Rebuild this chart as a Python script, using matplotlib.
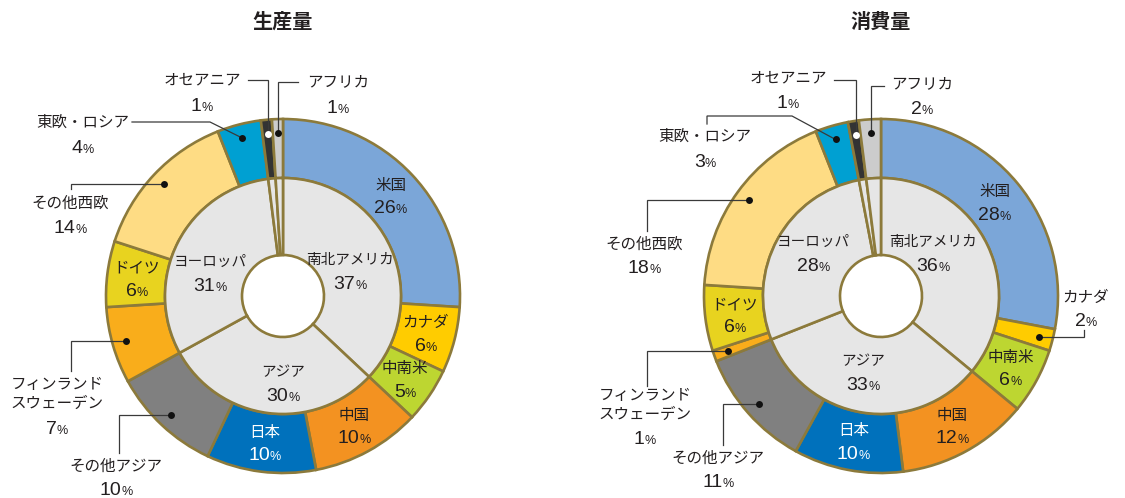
import numpy as np
import matplotlib
matplotlib.use('Agg')
import matplotlib.pyplot as plt

W, H = 1125, 498

# outer ring, clockwise from 12 o'clock
countries = ['米国', 'カナダ', '中南米', '中国', '日本', 'その他アジア',
             'フィンランド\nスウェーデン', 'ドイツ', 'その他西欧', '東欧・ロシア',
             'オセアニア', 'アフリカ']
production_share = [26, 6, 5, 10, 10, 10, 7, 6, 14, 4, 1, 1]
consumption_share = [28, 2, 6, 12, 10, 11, 1, 6, 18, 3, 1, 2]

# inner ring
regions = ['南北アメリカ', 'アジア', 'ヨーロッパ', 'オセアニア', 'アフリカ']
production_region = [37, 30, 31, 1, 1]
consumption_region = [36, 33, 28, 1, 2]

country_colors = ['#7ba6d8', '#ffcc00', '#bdd631', '#f39221', '#0071bc', '#808080',
                  '#f9ad1b', '#e8d31f', '#fedc84', '#00a0d2', '#333333', '#cccccc']
INNER = '#e6e6e6'
EDGE = '#8c7a3b'
INK = '#231f20'
JP = ['Noto Sans CJK JP', 'DejaVu Sans']
NUM = ['Liberation Sans', 'DejaVu Sans']

R_OUT, R_MID, R_HOLE = 177, 118, 41

fig = plt.figure(figsize=(W / 100, H / 100), dpi=100)
ax = fig.add_axes([0, 0, 1, 1])
renderer = fig.canvas.get_renderer()


def px(x, y):
    # image-style coords (y down) -> data coords
    return x, H - y


def value_text(x, y, v, color=INK):
    # big digits with a small percent sign, centred on (x, y)
    bx, by = px(x, y + 7)
    num = ax.text(bx, by, str(v), fontsize=14, family=NUM, color=color,
                  ha='left', va='baseline', zorder=6)
    pct = ax.text(bx, by, '%', fontsize=9, family=NUM, color=color,
                  ha='left', va='baseline', zorder=6)
    wn = num.get_window_extent(renderer).width
    wp = pct.get_window_extent(renderer).width
    x0 = x - (wn + wp) / 2
    num.set_x(x0)
    pct.set_x(x0 + wn)


def name_text(x, y, s, color=INK, size=11.2):
    ax.text(*px(x, y), s, fontsize=size, family=JP, color=color,
            ha='center', va='center', linespacing=1.15, zorder=6)


def wedge_point(w, r):
    t = np.deg2rad((w.theta1 + w.theta2) / 2)
    cx, cy = w.center
    return cx + r * np.cos(t), H - (cy + r * np.sin(t))


charts = [
    dict(title='生産量', center=(283, 296),
         outer=production_share, inner=production_region,
         inside=[0, 1, 2, 3, 4, 7],
         inner_pos={0: (350, 271), 1: (283, 383), 2: (210, 273)},
         callouts={
             10: dict(text=(202, 80, 104), start=(248, 80), route='hv'),
             11: dict(text=(338, 82, 106), start=(298, 82), route='hv'),
             9: dict(text=(83, 122, 146), pts=[(132, 122), (210, 122)]),
             8: dict(text=(70, 203, 226), start=(71, 189), route='vh'),
             6: dict(text=(57, 394, 427), start=(71, 371), route='vh'),
             5: dict(text=(116, 466, 488), start=(119, 453), route='vh'),
         }),
    dict(title='消費量', center=(881, 296),
         outer=consumption_share, inner=consumption_region,
         inside=[0, 2, 3, 4, 7],
         inner_pos={0: (933, 253), 1: (863, 372), 2: (813, 253)},
         callouts={
             10: dict(text=(788, 78, 101), start=(834, 80), route='hv'),
             11: dict(text=(922, 84, 107), start=(884, 86), route='hv'),
             9: dict(text=(705, 136, 160), pts=[(707, 124), (707, 116), (792, 116)]),
             8: dict(text=(644, 244, 266), start=(647, 231), route='vh'),
             1: dict(text=(1086, 297, 319), start=(1084, 330), route='vh'),
             6: dict(text=(645, 405, 437), start=(647, 386), route='vh'),
             5: dict(text=(718, 458, 480), start=(723, 445), route='vh'),
         }),
]

for ch in charts:
    cx, cy = ch['center']
    outer_w, _ = ax.pie(ch['outer'], radius=R_OUT, center=px(cx, cy),
                        startangle=90, counterclock=False, colors=country_colors,
                        wedgeprops=dict(width=R_OUT - R_MID, edgecolor=EDGE, linewidth=1.9))
    inner_w, _ = ax.pie(ch['inner'], radius=R_MID, center=px(cx, cy),
                        startangle=90, counterclock=False, colors=[INNER] * len(ch['inner']),
                        wedgeprops=dict(width=R_MID - R_HOLE, edgecolor=EDGE, linewidth=1.9))

    ax.text(*px(cx, 21), ch['title'], fontsize=14.5, fontweight='bold', family=JP,
            color=INK, ha='center', va='center')

    # labels sitting inside the outer ring
    for i in ch['inside']:
        x, y = wedge_point(outer_w[i], (R_OUT + R_MID) / 2)
        col = 'white' if countries[i] == '日本' else INK
        name_text(x, y - 10, countries[i], col)
        value_text(x, y + 11, ch['outer'][i], col)

    # region labels
    for i, (x, y) in ch['inner_pos'].items():
        name_text(x, y - 11, regions[i], size=10.5)
        value_text(x, y + 11, ch['inner'][i])

    # callouts for the narrow slices
    for i, c in ch['callouts'].items():
        tx, ny, vy = c['text']
        name_text(tx, ny, countries[i])
        value_text(tx, vy, ch['outer'][i])
        dx, dy = wedge_point(outer_w[i], 163)
        if 'pts' in c:
            path = c['pts'] + [(dx, dy)]
        elif c['route'] == 'hv':
            path = [c['start'], (dx, c['start'][1]), (dx, dy)]
        else:
            path = [c['start'], (c['start'][0], dy), (dx, dy)]
        xs = [p[0] for p in path]
        ys = [H - p[1] for p in path]
        ax.plot(xs, ys, color='#3a3a3a', lw=0.9, zorder=4, solid_joinstyle='miter')
        dot = 'white' if countries[i] == 'オセアニア' else '#111111'
        ax.plot(dx, H - dy, 'o', ms=5, color=dot, mec='none', zorder=5)

ax.set_xlim(0, W)
ax.set_ylim(0, H)
ax.set_aspect('equal')
ax.axis('off')

fig.savefig('out.png', dpi=100, facecolor='white')
